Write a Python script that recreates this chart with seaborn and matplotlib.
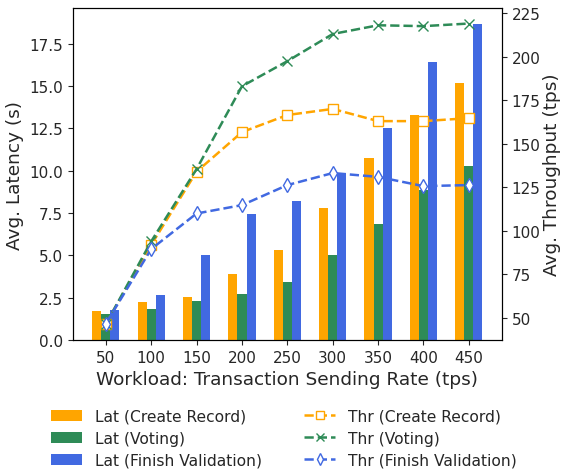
import numpy as np
import pandas as pd
import matplotlib
matplotlib.use('Agg')
import matplotlib.pyplot as plt
import seaborn as sns

# Données
rates = [50, 100, 150, 200, 250, 300, 350, 400, 450]
lat_create = [1.72, 2.25, 2.54, 3.90, 5.32, 7.80, 10.76, 13.30, 15.19]
lat_voting = [1.54, 1.83, 2.31, 2.72, 3.43, 5.03, 6.86, 8.85, 10.29]
lat_finish = [1.77, 2.66, 5.03, 7.45, 8.22, 9.87, 12.53, 16.44, 18.68]
thr_create = [46.6, 92.0, 134.0, 156.7, 166.5, 170.0, 163.0, 163.0, 164.7]
thr_voting = [46.5, 94.0, 135.5, 183.0, 197.4, 213.0, 218.0, 217.5, 219.0]
thr_finish = [46.8, 89.6, 110.0, 114.8, 126.3, 133.2, 131.0, 125.7, 126.3]

lat_labels = ['Lat (Create Record)', 'Lat (Voting)', 'Lat (Finish Validation)']
thr_labels = ['Thr (Create Record)', 'Thr (Voting)', 'Thr (Finish Validation)']
colors = ['orange', 'seagreen', 'royalblue']

sns.set_style('ticks')
plt.rcParams['font.family'] = ['DejaVu Sans']

df = pd.DataFrame({
    'rate': rates * 3,
    'lat': lat_create + lat_voting + lat_finish,
    'serie': [lat_labels[0]] * 9 + [lat_labels[1]] * 9 + [lat_labels[2]] * 9,
})

fig = plt.figure(figsize=(5.61, 4.77), dpi=100)
ax = fig.add_axes([0.1296, 0.2851, 0.7652, 0.6960])

sns.barplot(data=df, x='rate', y='lat', hue='serie', palette=colors,
            width=0.6, ax=ax, errorbar=None, saturation=1, legend=True,
            linewidth=0, edgecolor='none')
ax.set_xlim(-0.73, 8.73)
ax.set_ylim(0, 19.6)
ax.set_yticks(np.arange(0, 17.6, 2.5))
ax.set_yticklabels([f'{v:.1f}' for v in np.arange(0, 17.6, 2.5)])
ax.set_xlabel('Workload: Transaction Sending Rate (tps)', fontsize=13.3)
ax.set_ylabel('Avg. Latency (s)', fontsize=13.3)
ax.tick_params(labelsize=11)
for s in ax.spines.values():
    s.set_color('black')
bar_handles, _ = ax.get_legend_handles_labels()
ax.get_legend().remove()

# Débits sur l'axe secondaire
ax2 = ax.twinx()
x = np.arange(len(rates))
line_handles = []
for vals, col, mk, lab in zip([thr_create, thr_voting, thr_finish], colors,
                              ['s', 'x', 'd'], thr_labels):
    h, = ax2.plot(x, vals, linestyle='--', color=col, marker=mk, markersize=7.5,
                  markerfacecolor='white', markeredgecolor=col, markeredgewidth=1,
                  linewidth=1.8, label=lab)
    line_handles.append(h)
ax2.set_ylim(37.4, 227.9)
ax2.set_yticks(np.arange(50, 226, 25))
ax2.set_ylabel('Avg. Throughput (tps)', fontsize=13.3, labelpad=2)
ax2.tick_params(labelsize=11)
for s in ax2.spines.values():
    s.set_color('black')

fig.legend(bar_handles + line_handles, lat_labels + thr_labels,
           loc='center', bbox_to_anchor=(0.506, 0.079), ncol=2, frameon=False,
           fontsize=11.2, columnspacing=2.75, handlelength=2.0, labelspacing=0.45,
           markerscale=0.75)

fig.savefig('out.png', dpi=100)
